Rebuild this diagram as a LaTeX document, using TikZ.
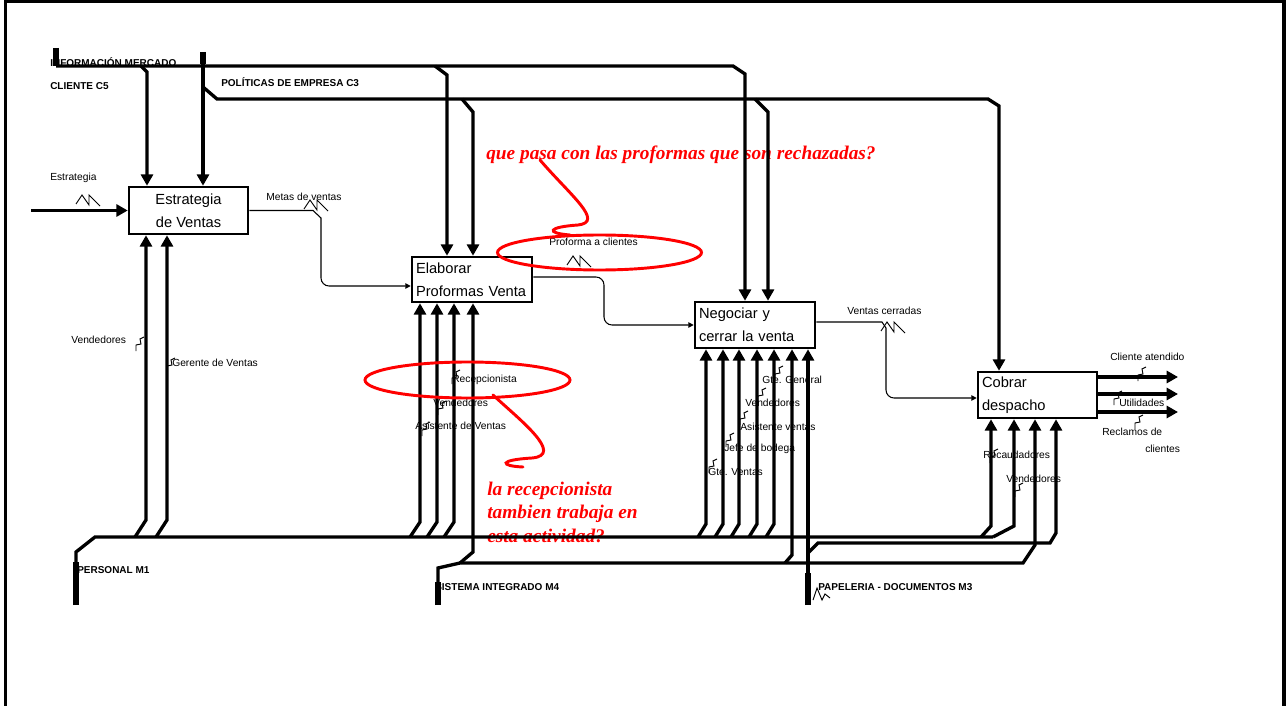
\documentclass[tikz,border=0pt]{standalone}
\usepackage{fontspec}
\setmainfont{Liberation Sans}
\newfontfamily\hand{Liberation Serif}
\usetikzlibrary{arrows.meta}
\begin{document}
\begin{tikzpicture}[x=0.75pt,y=-0.75pt,
  box/.style={draw, line width=1.9pt, inner sep=3pt, font=\fontsize{11}{17}\selectfont},
  lbl/.style={inner sep=0pt, anchor=west, font=\fontsize{7.7}{9}\selectfont},
  blbl/.style={inner sep=0pt, anchor=west, font=\bfseries\fontsize{7.5}{9}\selectfont},
  thk/.style={line width=2.5pt},
  thn/.style={line width=0.8pt},
  arr/.style={-{Triangle[length=8.5pt,width=9pt]}},
  sarr/.style={-{Triangle[length=4pt,width=4pt]}},
  stub/.style={line width=4.5pt},
  note/.style={draw=red, line width=2.2pt},
  redtxt/.style={text=red, font=\hand\bfseries\itshape\fontsize{14.5}{17.6}\selectfont, anchor=west, inner sep=0pt, align=left},
  zz/.pic={\draw[line width=0.7pt] (-12,4) -- (-6,-5) -- (1,5) -- (1,-5) -- (12,6);},
  ltn/.pic={\draw[line width=0.7pt] (4,-7) -- (0,-5) -- (1,0) -- (-4,1) -- (-4,7);}
]
\useasboundingbox (0,0) rectangle (1286,706);
% frame
\draw[line width=2.5pt] (5.5,706) -- (5.5,1) -- (1284,1) -- (1284,706);

% red notes (text)
\node[redtxt] (q1) at (486,155) {que pasa con las proformas que son rechazadas?};
\node[redtxt] (q2) at (487,512) {la recepcionista\\tambien trabaja en\\esta actividad?};

% boxes
\node[box, minimum width=89.25pt, minimum height=35.25pt, align=center] (b1) at (188.5,210.5) {Estrategia\\de Ventas};
\node[box, minimum height=33.75pt, text width=84pt, align=left] (b2) at (472,279.5) {Elaborar\\Proformas Venta};
\node[box, minimum height=34.5pt, text width=84pt, align=left] (b3) at (755,325) {Negociar y\\cerrar la venta};
\node[box, minimum height=34.5pt, text width=83.25pt, align=left] (b4) at (1037.5,395) {Cobrar\\despacho};

% input
\coordinate (inE) at (31,210.5);
\draw[thk,arr] (inE) -- (b1.west);
\node[lbl] at (50,178) {Estrategia};
\pic at (88,200) {zz};

% internal flows
\draw[thn,sarr] (b1.east) -- (313,210.5) -- (321,218) [rounded corners=6] -- (321,286) -- (b2.west |- 0,286);
\node[lbl] at (266,197) {Metas de ventas};
\pic at (316,205) {zz};

\draw[thn,sarr,rounded corners=6] (b2.east |- 0,277) -- (604,277) -- (604,325) -- (b3.west |- 0,325);
\node[lbl] at (549,242) {Proforma a clientes};
\pic at (579,261) {zz};

\draw[thn,sarr] (b3.east |- 0,322) -- (882,322) -- (886,328) [rounded corners=6] -- (886,398) -- (b4.west |- 0,398);
\node[lbl] at (847,311) {Ventas cerradas};
\pic at (893,327) {zz};

% outputs
\coordinate (o1) at (1178,377);
\coordinate (o2) at (1178,394);
\coordinate (o3) at (1178,412);
\draw[thk,arr] (b4.east |- 0,377) -- (o1);
\draw[thk,arr] (b4.east |- 0,394) -- (o2);
\draw[thk,arr] (b4.east |- 0,412) -- (o3);
\node[lbl] at (1110,357) {Cliente atendido};
\pic at (1142,374) {ltn};
\node[lbl] at (1119,403) {Utilidades};
\pic at (1118,398) {ltn};
\node[lbl] at (1102,432) {Reclamos de};
\node[lbl] at (1145,449) {clientes};
\pic at (1139,422) {ltn};

% controls C5
\coordinate (c5) at (56,48);
\draw[stub] (c5) -- (56,66);
\draw[thk,arr] (56,66) -- (733,66) -- (745,74) -- (745,0 |- b3.north);
\draw[thk,arr] (141,66) -- (147,72) -- (147,0 |- b1.north);
\draw[thk,arr] (435,66) -- (447,75) -- (447,0 |- b2.north);
\node[blbl] at (50,62) {INFORMACIÓN MERCADO};
\node[blbl] at (50,86) {CLIENTE C5};

% controls C3
\coordinate (c3) at (203,52);
\draw[stub] (c3) -- (203,64);
\draw[thk,arr] (c3) -- (203,0 |- b1.north);
\draw[thk,arr] (203,87) -- (217,99) -- (988,99) -- (999,106) -- (999,0 |- b4.north);
\draw[thk,arr] (462,99) -- (473,112) -- (473,0 |- b2.north);
\draw[thk,arr] (755,99) -- (768,112) -- (768,0 |- b3.north);
\node[blbl] at (221,82) {POLÍTICAS DE EMPRESA C3};

% mechanism M1
\coordinate (m1) at (76,605);
\draw[stub] (m1) -- (76,562);
\draw[thk] (76,562) -- (76,552) -- (95,537) -- (993,537);
\foreach \x in {146,167} \draw[thk,arr] (\x-11,537) -- (\x,520) -- (\x,0 |- b1.south);
\foreach \x in {420,437,454} \draw[thk,arr] (\x-10,537) -- (\x,522) -- (\x,0 |- b2.south);
\foreach \x in {706,723,739,757,774} \draw[thk,arr] (\x-8,537) -- (\x,524) -- (\x,0 |- b3.south);
\draw[thk,arr] (981,537) -- (991,526) -- (991,0 |- b4.south);
\draw[thk,arr] (993,537) -- (1014,526) -- (1014,0 |- b4.south);
\node[blbl] at (77,570) {PERSONAL M1};

% mechanism M4
\coordinate (m4) at (438,605);
\draw[stub] (m4) -- (438,582);
\draw[thk,arr] (438,582) -- (438,568) -- (460,563) -- (1023,563) -- (1035,545) -- (1035,0 |- b4.south);
\draw[thk,arr] (460,563) -- (473,552) -- (473,0 |- b2.south);
\draw[thk,arr] (785,563) -- (792,555) -- (792,0 |- b3.south);
\node[blbl] at (435,587) {SISTEMA INTEGRADO M4};

% mechanism M3
\coordinate (m3) at (808,605);
\draw[stub] (m3) -- (808,573);
\draw[thk,arr] (808,573) -- (808,0 |- b3.south);
\draw[thk,arr] (808,553) -- (818,543) -- (1050,543) -- (1056,533) -- (1056,0 |- b4.south);
\node[blbl] at (818,587) {PAPELERIA - DOCUMENTOS M3};
\draw[line width=0.7pt] (813,600) -- (817,588) -- (822,600) -- (825,594) -- (830,598);

% mechanism labels
\node[lbl] at (71,340) {Vendedores};
\pic at (140,344) {ltn};
\node[lbl] at (172,363) {Gerente de Ventas};
\pic at (171,365) {ltn};
\node[lbl] at (452,380) {Recepcionista};
\pic at (456,377) {ltn};
\node[lbl] at (433,403) {Vendedores};
\pic at (442,408) {ltn};
\node[lbl] at (415,426) {Asistente de Ventas};
\pic at (426,429) {ltn};
\node[lbl] at (762,380) {Gte. General};
\pic at (779,373) {ltn};
\node[lbl] at (745,403) {Vendedores};
\pic at (762,395) {ltn};
\node[lbl] at (740,427) {Asistente ventas};
\pic at (744,418) {ltn};
\node[lbl] at (724,449) {Jefe de bodega};
\pic at (730,440) {ltn};
\node[lbl] at (708,472) {Gte. Ventas};
\pic at (713,466) {ltn};
\node[lbl] at (983,455) {Recaudadores};
\pic at (994,456) {ltn};
\node[lbl] at (1006,479) {Vendedores};
\pic at (1019,490) {ltn};

% red marks
\draw[note] (599.5,252.5) ellipse [x radius=102, y radius=17.5];
\draw[note] (467.5,380) ellipse [x radius=102.5, y radius=18];
\draw[note, line cap=round] (540,160) .. controls (570,195) and (605,222) .. (578,225) .. controls (548,227) and (545,233) .. (570,235);
\draw[note, line cap=round] (493,395) .. controls (520,420) and (565,455) .. (532,458) .. controls (498,460) and (500,466) .. (523,467);
\end{tikzpicture}
\end{document}
